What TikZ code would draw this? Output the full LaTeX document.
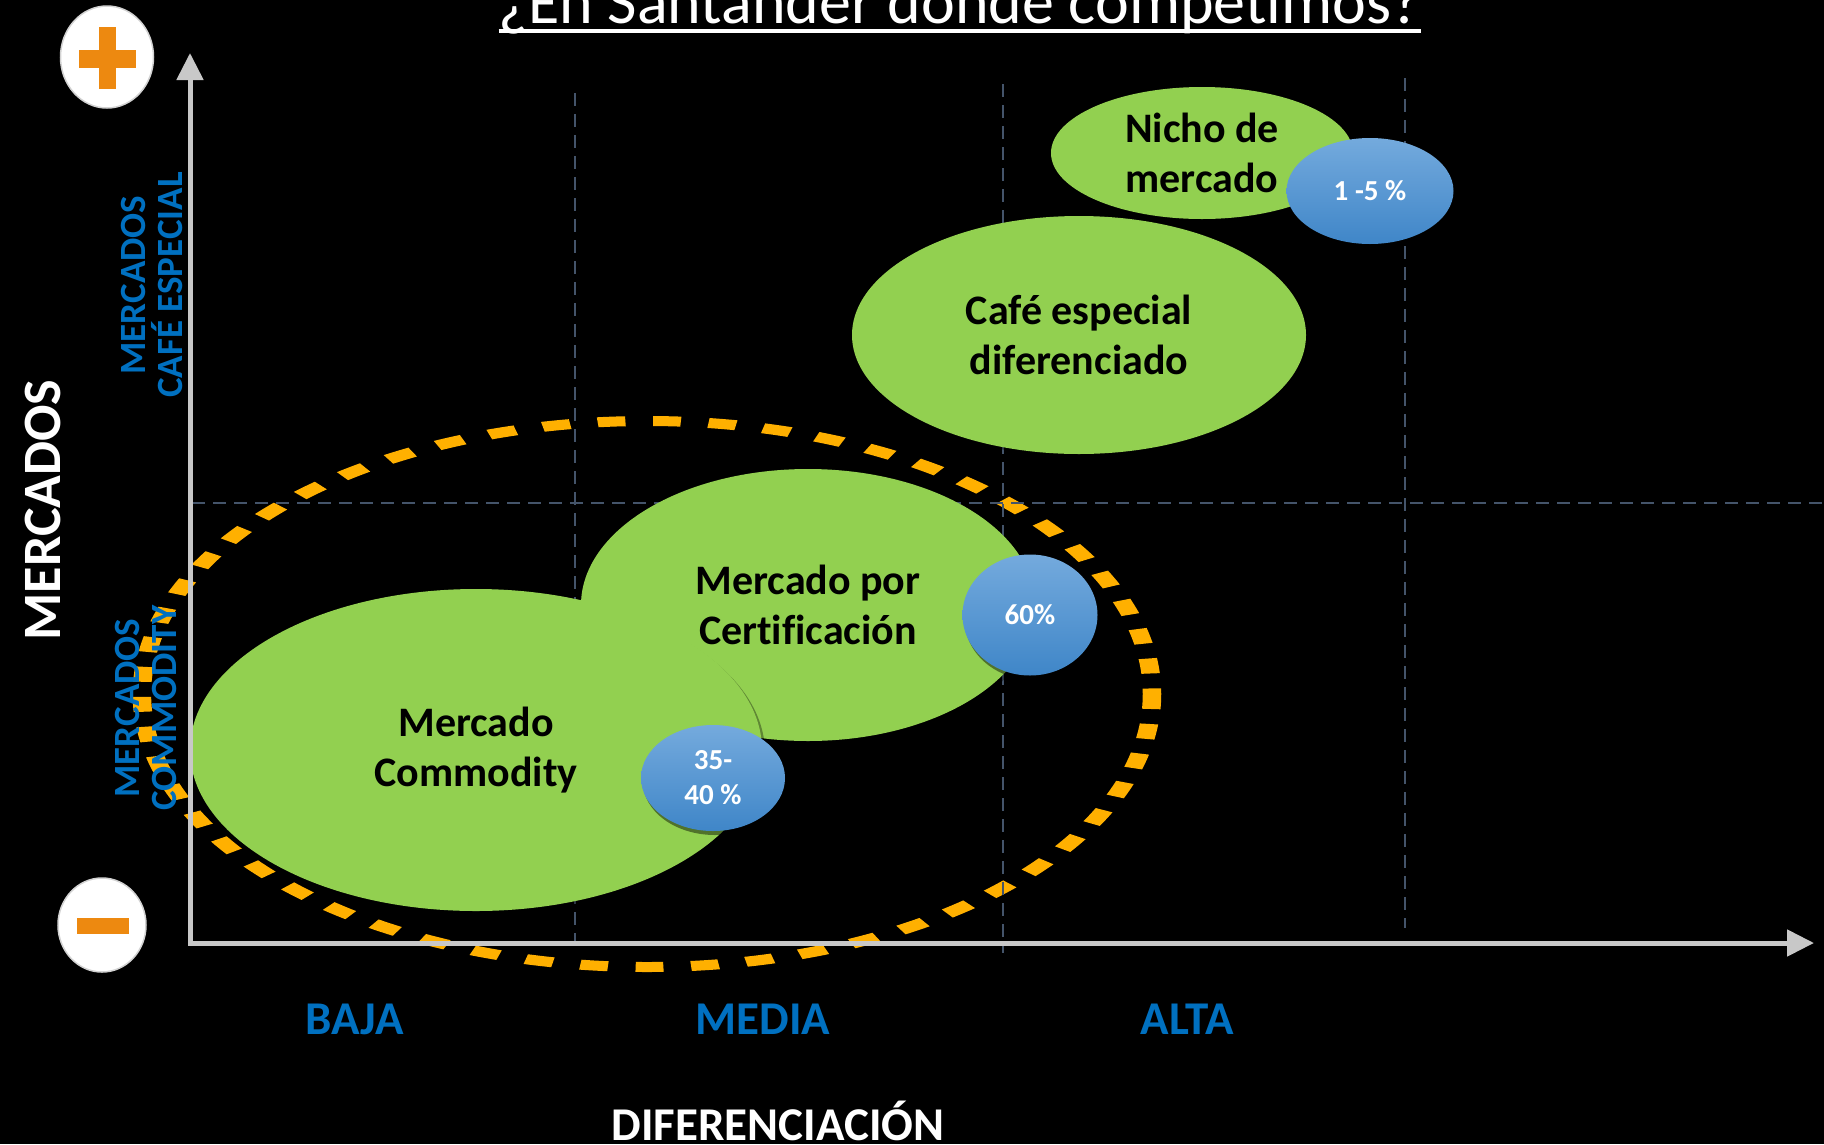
\documentclass[tikz,border=0pt]{standalone}
\usepackage{fontspec}
\setmainfont{Carlito}[Ligatures=NoCommon]
\usetikzlibrary{shapes.geometric,arrows.meta,shadows}
\definecolor{grn}{HTML}{92D050}
\definecolor{bluelbl}{HTML}{0070C0}
\definecolor{gridc}{HTML}{44546A}
\definecolor{dashor}{HTML}{FFB000}
\definecolor{plusor}{HTML}{ED8910}
\definecolor{axisc}{HTML}{C8C8C8}
\definecolor{btop}{HTML}{74AADD}
\definecolor{bbot}{HTML}{3F86C8}
\begin{document}
\begin{tikzpicture}[x=1pt,y=-1pt,
  griddash/.style={draw=gridc, line width=2pt, dash pattern=on 13pt off 8pt},
  axisline/.style={draw=axisc, line width=5pt, -{Triangle[length=27pt,width=26pt]}},
  grnell/.style={ellipse, fill=grn, inner sep=0pt, align=center, text=black,
    font=\fontsize{42}{50}\selectfont\bfseries,
    drop shadow={shadow xshift=3pt, shadow yshift=-3pt, fill=black, opacity=0.35}},
  blueell/.style={ellipse, top color=btop, bottom color=bbot, inner sep=0pt, align=center, text=white,
    font=\fontsize{29}{35}\selectfont\bfseries,
    drop shadow={shadow xshift=2pt, shadow yshift=-4pt, fill=black, opacity=0.45}},
  sidelbl/.style={rotate=90, align=center, text=bluelbl, font=\fontsize{37}{37}\selectfont\bfseries},
  lvl/.style={anchor=base, text=bluelbl, font=\fontsize{47}{50}\selectfont\bfseries, inner sep=0pt},
  pmcirc/.style={ellipse, fill=white, draw=gray!35, line width=1.5pt, inner sep=0pt}
]
\useasboundingbox (0,0) rectangle (1824,1144);
\fill[black] (0,0) rectangle (1824,1144);

% orange dashed ellipse (stretched circle)
\begin{scope}[transform canvas={xscale=1.85}]
  \draw[dashor, line width=10pt, dash pattern=on 15pt off 15pt] (349.7,694) circle[radius=273];
\end{scope}

% grid
\draw[griddash] (575,93) -- (575,944);
\draw[griddash] (1003,84) -- (1003,953);
\draw[griddash] (1405,78) -- (1405,928);
\draw[griddash] (192,503) -- (1824,503);

% green ellipses
\node[grnell, minimum width=454pt, minimum height=272pt] (cert) at (808,605) {Mercado por\\Certificación};
\node[grnell, minimum width=572pt, minimum height=322pt] (comm) at (476,750) {Mercado\\Commodity};
\node[grnell, minimum width=454pt, minimum height=238pt] (cafe) at (1079,335) {Café especial\\diferenciado};
\node[grnell, minimum width=302pt, minimum height=132pt] (nicho) at (1202,153) {Nicho de\\mercado};

% blue ellipses
\node[blueell, minimum width=167pt, minimum height=106pt] (p15) at (1370,191) {1 -5 \%};
\node[blueell, minimum width=135pt, minimum height=121pt] (p60) at (1030,615) {60\%};
\node[blueell, minimum width=144pt, minimum height=106pt] (p3540) at (713,778) {35-\\40 \%};

% axes
\coordinate (O) at (190,943);
\coordinate (Ytip) at (190,53);
\coordinate (Xtip) at (1814,943);
\draw[axisline] ([yshift=-2.5pt]O) -- (Ytip);
\draw[axisline] (O) -- (Xtip);

% plus / minus
\node[pmcirc, minimum width=93pt, minimum height=102pt] (plus) at (107,57) {};
\fill[plusor] (99,27) rectangle (116,89);
\fill[plusor] (79,50) rectangle (136,68);
\node[pmcirc, minimum width=88pt, minimum height=94pt] (minus) at (102,925) {};
\fill[plusor] (77,918) rectangle (129,934);

% title
\node[anchor=base, inner sep=0pt, text=white, font=\fontsize{64}{70}\selectfont] (title) at (960,23) {¿En Santander dónde competimos?};
\draw[white, line width=4pt] ([yshift=-8pt]title.base west) -- ([yshift=-8pt]title.base east);

% axis labels
\node[rotate=90, text=white, font=\fontsize{54}{60}\selectfont\bfseries] (ymerc) at (43,510) {MERCADOS};
\node[sidelbl] (cafeesp) at (152,285) {MERCADOS\\CAFÉ ESPECIAL};
\node[sidelbl] (commlbl) at (146,708) {MERCADOS\\COMMODITY};
\node[lvl] (baja) at (355,1034) {BAJA};
\node[lvl] (media) at (763,1034) {MEDIA};
\node[lvl] (alta) at (1187,1034) {ALTA};
\node[anchor=base, inner sep=0pt, text=white, font=\fontsize{47}{50}\selectfont\bfseries] (dif) at (778,1140) {DIFERENCIACIÓN};
\end{tikzpicture}
\end{document}
